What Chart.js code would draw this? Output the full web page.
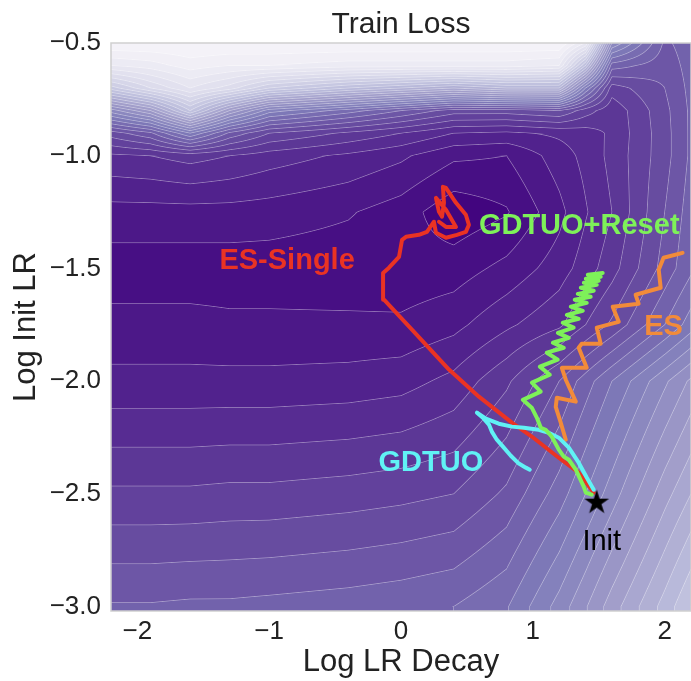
<!DOCTYPE html>
<html>
<head>
<meta charset="utf-8">
<script src="https://cdn.jsdelivr.net/npm/chart.js@4.4.1/dist/chart.umd.min.js"></script>
<style>
  html, body { margin: 0; padding: 0; background: #fff; overflow: hidden; }
  #wrap { width: 691px; height: 681px; overflow: hidden; }
  canvas { display: block; }
</style>
</head>
<body>
<div id="wrap"><canvas id="chart"></canvas></div>
<script>
// axis ticks
const xTicks = [-2, -1, 0, 1, 2];
const yTicks = [-3.0, -2.5, -2.0, -1.5, -1.0, -0.5];

// loss surface (contour level index per grid node)
const gridX = [-2.2, -1.9, -1.6, -1.3, -1.0, -0.4, 0.0, 0.4, 0.8, 1.2, 1.4, 1.6, 2.0, 2.2];
const gridY = [-3.0, -2.5, -2.0, -1.75, -1.5, -1.25, -1.0, -0.9, -0.8, -0.7, -0.6, -0.5];
const lossLevels = [
  [9.1, 9.1, 9.2, 9.2, 9.3, 9.5, 9.7, 10.0, 10.9, 13.4, 14.9, 16.5, 19.4, 21.0],
  [6.2, 6.2, 6.2, 6.3, 6.3, 6.5, 6.7, 7.0, 8.2, 10.5, 12.0, 13.5, 16.6, 18.0],
  [3.3, 3.3, 3.3, 3.3, 3.3, 3.4, 3.6, 4.3, 5.8, 8.0, 9.5, 11.0, 13.8, 15.2],
  [2.3, 2.3, 2.3, 2.2, 2.2, 2.2, 2.2, 2.7, 3.8, 4.8, 6.0, 7.2, 10.0, 11.5],
  [1.5, 1.5, 1.5, 1.5, 1.5, 1.4, 1.3, 1.5, 2.3, 3.5, 4.5, 5.6, 8.4, 9.8],
  [2.6, 2.6, 2.6, 2.6, 2.5, 2.1, 1.5, 0.3, 0.9, 2.7, 3.9, 5.0, 8.0, 9.5],
  [4.8, 5.0, 5.4, 5.0, 4.5, 3.8, 3.2, 2.2, 2.0, 3.5, 4.3, 5.3, 7.6, 9.2],
  [7.5, 8.8, 12, 8.8, 7.0, 5.8, 5.0, 4.0, 3.8, 4.2, 4.5, 5.2, 7.6, 9.2],
  [13.5, 16, 21, 16, 12.5, 10.5, 9.0, 7.5, 7.5, 8.0, 6.5, 5.3, 7.7, 9.2],
  [21.5, 24, 26, 24.5, 22, 20, 19, 18, 19, 19, 12, 6.5, 8.0, 9.3],
  [27, 27.5, 28.5, 28, 28, 27.5, 27.5, 27.5, 27.5, 27, 20, 9.5, 8.4, 9.4],
  [30, 30, 30, 30, 30, 30, 30, 30, 30, 30, 27, 14, 8.8, 9.5]
];
const NLEVELS = 32;

// trajectories
const esSingleX = [1.462, 1.348, 1.197, 0.992, 0.841, 0.591, 0.364, 0.083, -0.129, -0.136, -0.091, -0.015, 0.008, 0.038, 0.136, 0.197, 0.250, 0.265, 0.341, 0.424, 0.492, 0.515, 0.492, 0.417, 0.341, 0.318, 0.326, 0.311, 0.288, 0.265, 0.341, 0.417, 0.341, 0.288];
const esSingleY = [-2.495, -2.406, -2.340, -2.246, -2.184, -2.069, -1.949, -1.772, -1.639, -1.520, -1.497, -1.449, -1.373, -1.360, -1.351, -1.338, -1.293, -1.342, -1.364, -1.351, -1.338, -1.307, -1.262, -1.209, -1.143, -1.138, -1.209, -1.271, -1.249, -1.187, -1.240, -1.316, -1.316, -1.293];

const resetX = [1.447, 1.402, 1.386, 1.326, 1.273, 1.235, 1.197, 1.144, 1.098, 1.061, 1.030, 0.992, 0.924, 1.060, 0.993, 1.129, 1.053, 1.189, 1.106, 1.235, 1.152, 1.273, 1.190, 1.310, 1.227, 1.348, 1.258, 1.379, 1.288, 1.409, 1.318, 1.439, 1.341, 1.462, 1.364, 1.485, 1.387, 1.500, 1.402, 1.515, 1.417, 1.530];
const resetY = [-2.504, -2.495, -2.468, -2.393, -2.349, -2.335, -2.304, -2.247, -2.216, -2.207, -2.162, -2.118, -2.083, -2.047, -2.007, -1.972, -1.936, -1.905, -1.874, -1.852, -1.830, -1.808, -1.786, -1.763, -1.741, -1.724, -1.706, -1.688, -1.670, -1.653, -1.639, -1.626, -1.613, -1.599, -1.586, -1.573, -1.564, -1.555, -1.546, -1.537, -1.528, -1.520];

const esX = [1.250, 1.212, 1.174, 1.182, 1.326, 1.250, 1.220, 1.409, 1.348, 1.371, 1.515, 1.485, 1.652, 1.606, 1.803, 1.780, 1.970, 1.955, 1.992, 2.136];
const esY = [-2.260, -2.185, -2.114, -2.074, -2.091, -1.994, -1.941, -1.941, -1.852, -1.834, -1.834, -1.763, -1.737, -1.670, -1.657, -1.617, -1.586, -1.506, -1.453, -1.431];

const gdtuoX = [1.462, 1.409, 1.348, 1.273, 1.197, 1.121, 1.045, 0.932, 0.841, 0.742, 0.644, 0.576, 0.621, 0.667, 0.689, 0.727, 0.780, 0.833, 0.894, 0.947, 0.977];
const gdtuoY = [-2.482, -2.428, -2.362, -2.295, -2.251, -2.229, -2.216, -2.207, -2.202, -2.189, -2.167, -2.140, -2.162, -2.193, -2.224, -2.260, -2.295, -2.331, -2.366, -2.384, -2.393];

const initX = [1.485];
const initY = [-2.535];

const FONT = "'Liberation Sans', Arial, Helvetica, sans-serif";
const INK = '#222222';

const seriesLabels = [
  { text: 'ES-Single', x: -0.864, y: -1.466, color: '#ea3323', bold: true },
  { text: 'GDTUO+Reset', x: 1.352, y: -1.311, color: '#7ef159', bold: true },
  { text: 'ES', x: 1.992, y: -1.759, color: '#f28b3a', bold: true },
  { text: 'GDTUO', x: 0.227, y: -2.362, color: '#60f2f5', bold: true },
  { text: 'Init', x: 1.523, y: -2.716, color: '#000000', bold: false }
];

const zip = (xs, ys) => xs.map((v, i) => ({ x: v, y: ys[i] }));
const minus = s => String(s).replace('-', '\u2212');

// matplotlib Purples
const purpleStops = [
  [252, 251, 253], [239, 237, 245], [218, 218, 235], [188, 189, 220], [158, 154, 200],
  [128, 125, 186], [106, 81, 163], [84, 39, 143], [63, 0, 125]
];
function purples(t) {
  t = Math.min(1, Math.max(0, t)) * (purpleStops.length - 1);
  const k = Math.min(purpleStops.length - 2, Math.floor(t)), f = t - k;
  const a = purpleStops[k], b = purpleStops[k + 1];
  return [a[0] + (b[0] - a[0]) * f, a[1] + (b[1] - a[1]) * f, a[2] + (b[2] - a[2]) * f];
}

function levelAt(x, y) {
  let i = 0; while (i < gridX.length - 2 && x > gridX[i + 1]) i++;
  let j = 0; while (j < gridY.length - 2 && y > gridY[j + 1]) j++;
  let tx = (x - gridX[i]) / (gridX[i + 1] - gridX[i]);
  let ty = (y - gridY[j]) / (gridY[j + 1] - gridY[j]);
  tx = Math.min(1, Math.max(0, tx)); ty = Math.min(1, Math.max(0, ty));
  const r0 = lossLevels[j], r1 = lossLevels[j + 1];
  return r0[i] * (1 - tx) * (1 - ty) + r0[i + 1] * tx * (1 - ty) + r1[i] * (1 - tx) * ty + r1[i + 1] * tx * ty;
}

// filled contour + contour lines under the trajectories
const contourBg = {
  id: 'contourBg',
  beforeDatasetsDraw(chart) {
    const { ctx, chartArea: a, scales: { x, y } } = chart;
    const left = Math.round(a.left), top = Math.round(a.top);
    const w = Math.round(a.right) - left, h = Math.round(a.bottom) - top;
    const W = w + 2;
    const L = new Float32Array(W * (h + 2));
    for (let r = -1; r <= h; r++) {
      const yv = y.getValueForPixel(top + r + 0.5);
      for (let c = -1; c <= w; c++) {
        L[(r + 1) * W + c + 1] = levelAt(x.getValueForPixel(left + c + 0.5), yv);
      }
    }
    const img = ctx.createImageData(w, h);
    for (let r = 0; r < h; r++) {
      for (let c = 0; c < w; c++) {
        const p = (r + 1) * W + c + 1;
        const z = L[p];
        const col = purples(1 - (Math.floor(z) + 0.5) / NLEVELS);
        const gx = (L[p + 1] - L[p - 1]) / 2, gy = (L[p + W] - L[p - W]) / 2;
        const g = Math.max(Math.hypot(gx, gy), 1e-6);
        const d = Math.abs(z - Math.round(z)) / g;
        const la = Math.max(0, 1 - d / 0.8) * 0.38;
        const o = (r * w + c) * 4;
        img.data[o] = col[0] + (255 - col[0]) * la;
        img.data[o + 1] = col[1] + (255 - col[1]) * la;
        img.data[o + 2] = col[2] + (255 - col[2]) * la;
        img.data[o + 3] = 255;
      }
    }
    ctx.putImageData(img, left, top);
  },
  afterDatasetsDraw(chart) {
    const { ctx, scales: { x, y } } = chart;
    ctx.save();
    ctx.textAlign = 'center';
    ctx.textBaseline = 'middle';
    seriesLabels.forEach(l => {
      ctx.font = (l.bold ? 'bold ' : '') + '29px ' + FONT;
      ctx.fillStyle = l.color;
      ctx.fillText(l.text, x.getPixelForValue(l.x), y.getPixelForValue(l.y));
    });
    ctx.restore();
  },
  afterDraw(chart) {
    const { ctx, chartArea: a } = chart;
    ctx.save();
    ctx.strokeStyle = '#cfcfcf';
    ctx.lineWidth = 1.5;
    ctx.strokeRect(a.left, a.top, a.right - a.left, a.bottom - a.top);
    ctx.fillStyle = INK;
    ctx.font = '30px ' + FONT;
    ctx.textAlign = 'center';
    ctx.textBaseline = 'alphabetic';
    ctx.fillText('Train Loss', (a.left + a.right) / 2, 33);
    ctx.restore();
  }
};

function makeStar(size) {
  const c = document.createElement('canvas');
  c.width = c.height = size;
  const g = c.getContext('2d');
  g.fillStyle = '#000';
  g.beginPath();
  for (let k = 0; k < 10; k++) {
    const r = k % 2 ? size * 0.19 : size * 0.5;
    const ang = -Math.PI / 2 + k * Math.PI / 5;
    g.lineTo(size / 2 + r * Math.cos(ang), size / 2 + r * Math.sin(ang) + size * 0.04);
  }
  g.closePath();
  g.fill();
  return c;
}

const lineSet = (label, data, color, order) => ({
  label, data, showLine: true, borderColor: color, backgroundColor: color,
  borderWidth: 4, pointRadius: 0, tension: 0, order,
  borderJoinStyle: 'round', borderCapStyle: 'round'
});

new Chart(document.getElementById('chart'), {
  type: 'scatter',
  data: {
    datasets: [
      { label: 'Init', data: zip(initX, initY), pointStyle: makeStar(26), pointRadius: 13, order: 0 },
      lineSet('GDTUO+Reset', zip(resetX, resetY), '#7ef159', 1),
      lineSet('GDTUO', zip(gdtuoX, gdtuoY), '#60f2f5', 2),
      lineSet('ES', zip(esX, esY), '#f28b3a', 3),
      lineSet('ES-Single', zip(esSingleX, esSingleY), '#ea3323', 4)
    ]
  },
  options: {
    responsive: true,
    maintainAspectRatio: false,
    animation: false,
    devicePixelRatio: 1,
    layout: { autoPadding: false, padding: { top: 43, right: 0, left: 0, bottom: 0 } },
    plugins: { legend: { display: false }, tooltip: { enabled: false }, title: { display: false } },
    scales: {
      x: {
        type: 'linear', min: -2.2, max: 2.2,
        afterBuildTicks: s => { s.ticks = xTicks.map(v => ({ value: v })); },
        afterFit: s => { s.height = 70; s.paddingLeft = 0; s.paddingRight = 0; },
        grid: { display: false, drawTicks: false },
        border: { display: false },
        ticks: { color: INK, padding: 5, font: { size: 26, family: FONT }, callback: v => minus(v) },
        title: { display: true, text: 'Log LR Decay', color: INK, font: { size: 31, family: FONT }, padding: { top: 0, bottom: 0 } }
      },
      y: {
        type: 'linear', min: -3.02, max: -0.5,
        afterBuildTicks: s => { s.ticks = yTicks.map(v => ({ value: v })); },
        afterFit: s => { s.width = 111; s.paddingTop = 0; s.paddingBottom = 0; },
        grid: { display: false, drawTicks: false },
        border: { display: false },
        ticks: { color: INK, padding: 10, font: { size: 26, family: FONT }, callback: v => minus(v.toFixed(1)) },
        title: { display: true, text: 'Log Init LR', color: INK, font: { size: 31, family: FONT }, padding: { top: 8, bottom: 0 } }
      }
    }
  },
  plugins: [contourBg]
});
</script>
</body>
</html>
